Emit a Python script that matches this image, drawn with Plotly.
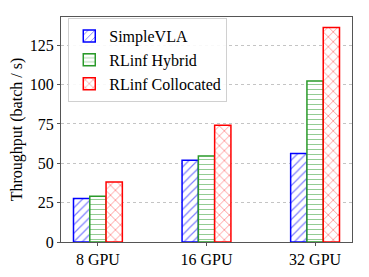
import plotly.graph_objects as go

categories = ["8 GPU", "16 GPU", "32 GPU"]
simplevla = [27.6, 52.0, 56.2]
hybrid = [29.1, 54.7, 102.4]
collocated = [38.2, 74.2, 136.4]
series_names = ["SimpleVLA", "RLinf Hybrid", "RLinf Collocated"]
y_ticks = [0, 25, 50, 75, 100, 125]

colors = ["#0000ff", "#2a9a2a", "#ff0000"]
shapes = ["/", "-", "x"]
sizes = [6, 5, 7]

fig = go.Figure()
for name, vals, c, s, sz in zip(series_names, [simplevla, hybrid, collocated], colors, shapes, sizes):
    fig.add_trace(go.Bar(
        x=categories, y=vals, name=name,
        marker=dict(color="white", line=dict(color=c, width=1.5),
                    pattern=dict(shape=s, fgcolor=c, bgcolor="white", size=sz, solidity=0.2)),
    ))

font = "Liberation Serif"
# page body has an 8px default margin, so the figure is sized to fill the rest
fig.update_layout(
    width=361, height=269,
    margin=dict(l=53, r=17, t=9, b=35),
    barmode="group", bargap=0.55, bargroupgap=0,
    plot_bgcolor="white", paper_bgcolor="white",
    font=dict(family=font, size=16, color="black"),
    showlegend=True,
    legend=dict(x=0.025, y=0.995, xanchor="left", yanchor="top",
                bgcolor="rgba(255,255,255,0.9)", bordercolor="#d0d0d0", borderwidth=1,
                font=dict(family=font, size=16), tracegroupgap=0),
    xaxis=dict(range=[-0.34, 2.34], showline=True, linecolor="#555", mirror=True,
               ticks="outside", ticklen=3, tickcolor="#555", showgrid=False,
               tickfont=dict(family=font, size=16)),
    yaxis=dict(range=[0, 143], tickvals=y_ticks, showline=True, linecolor="#555", mirror=True,
               ticks="outside", ticklen=3, tickcolor="#555",
               showgrid=True, gridcolor="#c4c4c4", griddash="dot", gridwidth=0.6,
               zeroline=False, tickfont=dict(family=font, size=16), automargin=False,
               title=dict(text="Throughput (batch / s)", font=dict(family=font, size=16), standoff=4)),
)
fig.write_html("out.html")
